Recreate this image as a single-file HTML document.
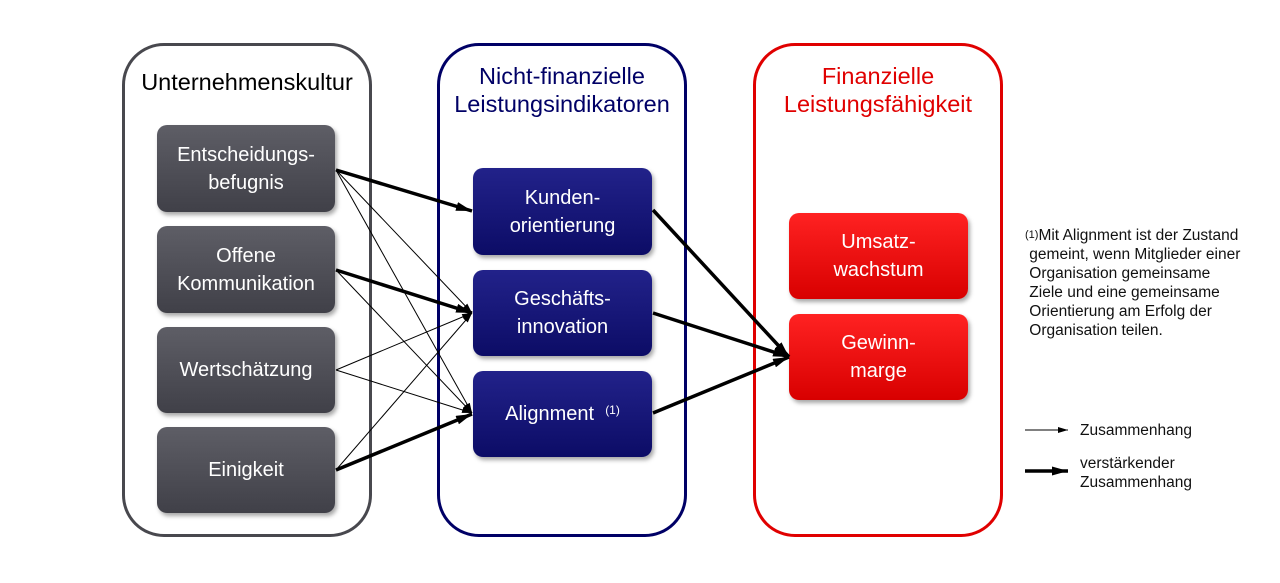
<!DOCTYPE html>
<html><head><meta charset="utf-8"><style>
body{margin:0;width:1280px;height:583px;background:#fff;font-family:"Liberation Sans",sans-serif;position:relative;overflow:hidden}
.c{position:absolute;border:3px solid;border-radius:42px;box-sizing:border-box}
.t{position:absolute;text-align:center;font-size:23.5px;line-height:28px}
.b{position:absolute;border-radius:10px;color:#fff;font-size:20px;line-height:28px;display:flex;align-items:center;justify-content:center;text-align:center;box-shadow:2px 3px 4px rgba(0,0,0,.35)}
.g{background:linear-gradient(#5e5e66,#404048)}
.n{background:linear-gradient(#22228a,#0c0c66)}
.r{background:linear-gradient(#f22,#d80000)}
svg{position:absolute;left:0;top:0}
.s{position:absolute;font-size:15.5px;line-height:19px;color:#111}
</style></head><body>
<div class="c" style="left:122px;top:43px;width:250px;height:494px;border-color:#48484e"></div>
<div class="c" style="left:437px;top:43px;width:250px;height:494px;border-color:#000066"></div>
<div class="c" style="left:753px;top:43px;width:250px;height:494px;border-color:#e00000"></div>
<div class="t" style="left:110px;top:68px;width:274px">Unternehmenskultur</div>
<div class="t" style="left:425px;top:62px;width:274px;color:#000066">Nicht-finanzielle<br>Leistungsindikatoren</div>
<div class="t" style="left:741px;top:62px;width:274px;color:#e00000">Finanzielle<br>Leistungsfähigkeit</div>
<div class="b g" style="left:157px;top:125px;width:178px;height:87px">Entscheidungs-<br>befugnis</div>
<div class="b g" style="left:157px;top:226px;width:178px;height:87px">Offene<br>Kommunikation</div>
<div class="b g" style="left:157px;top:327px;width:178px;height:86px">Wertschätzung</div>
<div class="b g" style="left:157px;top:427px;width:178px;height:86px">Einigkeit</div>
<div class="b n" style="left:473px;top:168px;width:179px;height:87px">Kunden-<br>orientierung</div>
<div class="b n" style="left:473px;top:270px;width:179px;height:86px">Geschäfts-<br>innovation</div>
<div class="b n" style="left:473px;top:371px;width:179px;height:86px">Alignment&nbsp;&nbsp;<sup style="font-size:12px;position:relative;top:-4px">(1)</sup></div>
<div class="b r" style="left:789px;top:213px;width:179px;height:86px">Umsatz-<br>wachstum</div>
<div class="b r" style="left:789px;top:314px;width:179px;height:86px">Gewinn-<br>marge</div>
<svg width="1280" height="583">
<defs>
<marker id="a" markerWidth="10" markerHeight="6" refX="10" refY="3" orient="auto" markerUnits="userSpaceOnUse"><path d="M0,0L10,3L0,6z"/></marker>
<marker id="A" markerWidth="16" markerHeight="9" refX="16" refY="4.5" orient="auto" markerUnits="userSpaceOnUse"><path d="M0,0L16,4.5L0,9z"/></marker>
</defs>
<g stroke="#000" fill="none">
<g stroke-width="1" marker-end="url(#a)">
<line x1="336" y1="170" x2="472" y2="313"/>
<line x1="336" y1="170" x2="472" y2="413"/>
<line x1="336" y1="270" x2="472" y2="413"/>
<line x1="336" y1="370" x2="472" y2="313"/>
<line x1="336" y1="370" x2="472" y2="413"/>
<line x1="336" y1="470" x2="472" y2="313"/>
<line x1="1025" y1="430" x2="1068" y2="430"/>
</g>
<g stroke-width="3.5" marker-end="url(#A)">
<line x1="336" y1="170" x2="472" y2="211"/>
<line x1="336" y1="270" x2="472" y2="313"/>
<line x1="336" y1="470" x2="472" y2="414"/>
<line x1="653" y1="210" x2="789" y2="357"/>
<line x1="653" y1="313" x2="789" y2="357"/>
<line x1="653" y1="413" x2="789" y2="357"/>
<line x1="1025" y1="471" x2="1068" y2="471"/>
</g>
</g>
</svg>
<div class="s" style="left:1025px;top:226px;width:250px"><span style="font-size:11px;vertical-align:top">(1)</span>Mit Alignment ist der Zustand<br>&nbsp;gemeint, wenn Mitglieder einer<br>&nbsp;Organisation gemeinsame<br>&nbsp;Ziele und eine gemeinsame<br>&nbsp;Orientierung am Erfolg der<br>&nbsp;Organisation teilen.</div>
<div class="s" style="left:1080px;top:421px">Zusammenhang</div>
<div class="s" style="left:1080px;top:454px">verstärkender<br>Zusammenhang</div>
</body></html>
